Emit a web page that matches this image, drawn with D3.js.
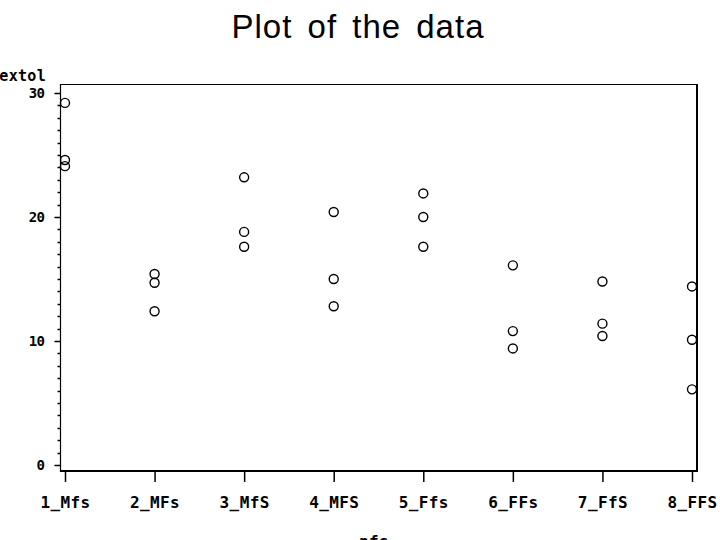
<!DOCTYPE html>
<html><head><meta charset="utf-8">
<script src="https://cdn.jsdelivr.net/npm/d3@7"></script>
<style>body{margin:0;background:#fff}svg{display:block}</style>
</head><body>
<script>
const categories = ["1_Mfs","2_MFs","3_MfS","4_MFS","5_Ffs","6_FFs","7_FfS","8_FFS"];
const textolValues = [
  [29.2, 24.6, 24.1],
  [15.4, 14.7, 12.4],
  [23.2, 18.8, 17.6],
  [20.4, 15.0, 12.8],
  [21.9, 20.0, 17.6],
  [16.1, 10.8, 9.4],
  [14.8, 11.4, 10.4],
  [14.4, 10.1, 6.1]
];
const yTicks = [0, 10, 20, 30];

(function () {
const W = 720, H = 540;
const svg = d3.select("body").append("svg").attr("width", W).attr("height", H);

const x = d3.scalePoint().domain(categories).range([65, 692]);
const y = d3.scaleLinear().domain([0, 30]).range([465, 93]);

const fL = 60.5, fT = 84.5, fR = 697, fB = 471;

// frame
svg.append("line").attr("x1", fL).attr("x2", fR).attr("y1", fT).attr("y2", fT)
  .attr("stroke", "#000").attr("stroke-width", 1.2);
svg.append("line").attr("x1", fR).attr("x2", fR).attr("y1", fT - 0.5).attr("y2", fB + 1)
  .attr("stroke", "#000").attr("stroke-width", 2);

// y axis
const yAxis = svg.append("g").attr("transform", `translate(${fL},0)`)
  .call(d3.axisLeft(y).tickValues(yTicks).tickSize(6).tickPadding(10).tickFormat(d3.format("d")));
yAxis.select(".domain").remove();
yAxis.append("line").attr("x1", 0).attr("x2", 0).attr("y1", fT - 0.5).attr("y2", fB + 1)
  .attr("stroke", "#000").attr("stroke-width", 1.2);
yAxis.selectAll(".tick line").attr("stroke-width", 1.5);
yAxis.selectAll(".tick text").attr("font-family", "DejaVu Sans Mono").attr("font-weight", "bold")
  .attr("font-size", 14).attr("letter-spacing", -0.5).attr("fill", "#000");
const minor = d3.range(0, 31).filter(v => v % 10 !== 0);
yAxis.selectAll(".minor").data(minor).join("line").attr("class", "minor")
  .attr("x1", -3).attr("x2", 0).attr("y1", d => Math.round(y(d)) + 0.5).attr("y2", d => Math.round(y(d)) + 0.5)
  .attr("stroke", "#000").attr("stroke-width", 1.5);

// x axis
const xAxis = svg.append("g").attr("transform", `translate(0,${fB})`)
  .call(d3.axisBottom(x).tickSize(11).tickPadding(15));
xAxis.select(".domain").remove();
xAxis.append("line").attr("x1", fL - 0.5).attr("x2", fR + 1).attr("y1", 0).attr("y2", 0)
  .attr("stroke", "#000").attr("stroke-width", 2.2);
xAxis.selectAll(".tick line").attr("stroke-width", 1.5);
xAxis.selectAll(".tick text").attr("font-family", "DejaVu Sans Mono").attr("font-weight", "bold")
  .attr("font-size", 16).attr("letter-spacing", 0.4).attr("fill", "#000");

// axis labels
svg.append("text").attr("x", 46).attr("y", 81).attr("text-anchor", "end")
  .attr("font-family", "DejaVu Sans Mono").attr("font-weight", "bold").attr("font-size", 15)
  .attr("letter-spacing", 0.3).text("textol");
svg.append("text").attr("x", 374).attr("y", 547).attr("text-anchor", "middle")
  .attr("font-family", "DejaVu Sans Mono").attr("font-weight", "bold").attr("font-size", 16)
  .attr("letter-spacing", 0.4).text("nfs");

// title
svg.append("text").attr("x", 358).attr("y", 38).attr("text-anchor", "middle")
  .attr("font-family", "Liberation Sans").attr("font-size", 33)
  .attr("letter-spacing", 1).attr("word-spacing", 5).text("Plot of the data");

// points
const pts = [];
categories.forEach((c, i) => textolValues[i].forEach(v => pts.push({c, v})));
svg.append("g").selectAll("circle").data(pts).join("circle")
  .attr("cx", d => x(d.c)).attr("cy", d => y(d.v)).attr("r", 4.5)
  .attr("fill", "none").attr("stroke", "#000").attr("stroke-width", 1.4);
})();
</script>
</body></html>
